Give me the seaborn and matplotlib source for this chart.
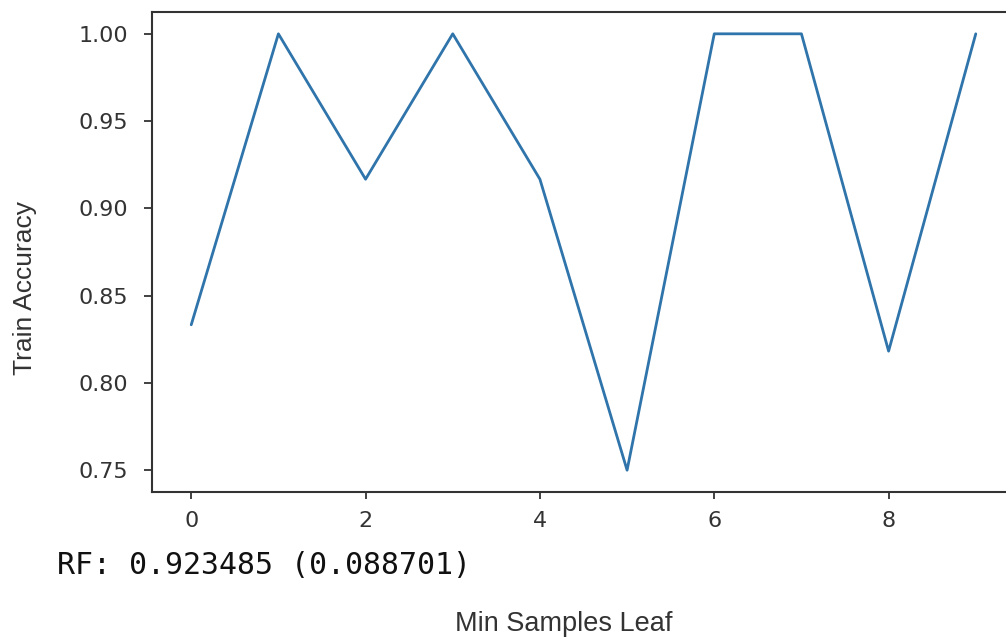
import matplotlib
matplotlib.use("Agg")
import matplotlib.pyplot as plt
import seaborn as sns
import pandas as pd

# Data
min_samples_leaf = [0, 1, 2, 3, 4, 5, 6, 7, 8, 9]
train_accuracy = [0.8333, 1.0, 0.9167, 1.0, 0.9167, 0.75, 1.0, 1.0, 0.8182, 1.0]
x_ticks = [0, 2, 4, 6, 8]
y_ticks = [0.75, 0.80, 0.85, 0.90, 0.95, 1.00]
summary_text = "RF: 0.923485 (0.088701)"

sns.set_style("white")
plt.rcParams["font.family"] = ["DejaVu Sans"]

df = pd.DataFrame({"leaf": min_samples_leaf, "acc": train_accuracy})

W, H = 1006, 644
fig = plt.figure(figsize=(W / 100, H / 100), dpi=100)
ax = fig.add_axes([152 / W, 1 - 492 / H, 863 / W, 480 / H])

sns.lineplot(data=df, x="leaf", y="acc", ax=ax, color="#2f74aa", linewidth=2.0)

ax.set_xlim(-0.45, 9.45)
ax.set_ylim(0.7375, 1.0125)
ax.set_xticks(x_ticks)
ax.set_yticks(y_ticks)
ax.set_xticklabels([str(v) for v in x_ticks])
ax.set_yticklabels([f"{v:.2f}" for v in y_ticks])
ax.tick_params(axis="both", direction="out", length=6, width=1.3, color="#333333",
               labelsize=16, labelcolor="#333333", left=True, bottom=True)
ax.tick_params(axis="y", pad=11)
ax.tick_params(axis="x", pad=8.5, length=5)
for s in ax.spines.values():
    s.set_color("#333333")
    s.set_linewidth(1.5)
ax.set_xlabel("")
ax.set_ylabel("")

fig.text(25 / W, 1 - 288 / H, "Train Accuracy", rotation=90, ha="center", va="center",
         fontsize=19, color="#333333", family=["Liberation Sans"])
fig.text(564 / W, 1 - 624 / H, "Min Samples Leaf", ha="center", va="center",
         fontsize=19.5, color="#333333", family=["Liberation Sans"])
fig.text(57 / W, 1 - 565 / H, summary_text, ha="left", va="center",
         fontsize=21.5, color="#111111", family=["DejaVu Sans Mono"])

fig.savefig("out.png", dpi=100)
